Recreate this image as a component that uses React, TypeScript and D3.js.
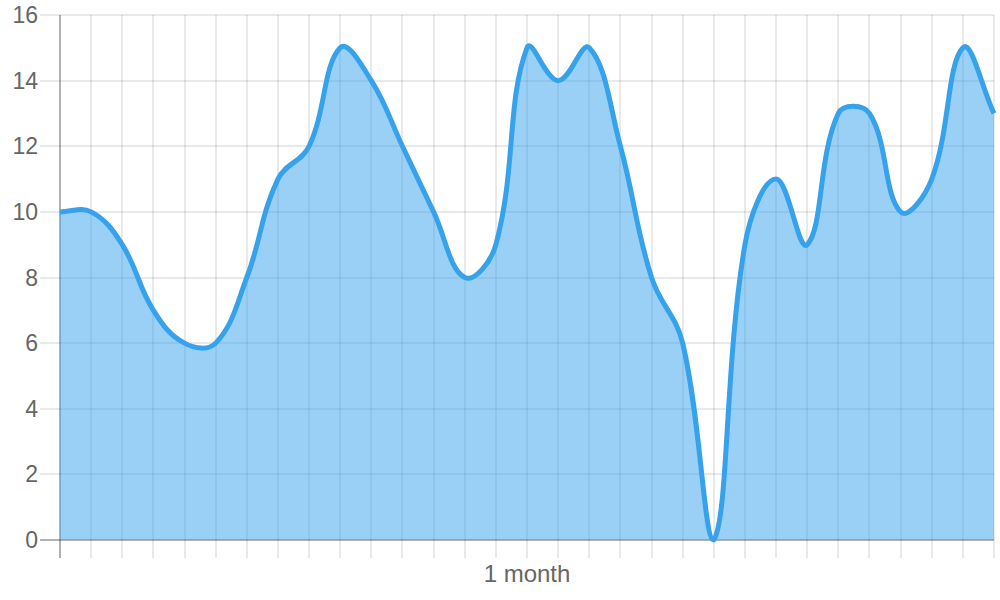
import React from "react";
import * as d3 from "d3";

const labels: string[] = Array.from({ length: 31 }, (_, i) => (i === 15 ? "1 month" : ""));
const values: number[] = [
  10, 10, 9, 7, 6, 6, 8, 11, 12, 15, 14, 12, 10, 8, 9, 15, 14, 15, 12, 8, 6, 0, 9, 11, 9, 13, 13, 10, 11, 15, 13,
];
const yTicks: number[] = [0, 2, 4, 6, 8, 10, 12, 14, 16];

const W = 1000;
const H = 600;
const left = 60;
const right = 994;
const top = 15;
const bottom = 540;
const tension = 0.4;

type P = { x: number; y: number; cpx1?: number; cpy1?: number; cpx2?: number; cpy2?: number };

function splinePath(pts: P[]): string {
  const n = pts.length;
  const cap = (v: number, lo: number, hi: number) => Math.max(lo, Math.min(hi, v));
  for (let i = 0; i < n; i++) {
    const cur = pts[i];
    const prev = i > 0 ? pts[i - 1] : cur;
    const next = i < n - 1 ? pts[i + 1] : cur;
    const d01 = Math.hypot(cur.x - prev.x, cur.y - prev.y);
    const d12 = Math.hypot(next.x - cur.x, next.y - cur.y);
    let s01 = d01 / (d01 + d12);
    let s12 = d12 / (d01 + d12);
    if (isNaN(s01)) s01 = 0;
    if (isNaN(s12)) s12 = 0;
    const fa = s01 * tension;
    const fb = s12 * tension;
    cur.cpx1 = cap(cur.x - fa * (next.x - prev.x), left, right);
    cur.cpy1 = cap(cur.y - fa * (next.y - prev.y), top, bottom);
    cur.cpx2 = cap(cur.x + fb * (next.x - prev.x), left, right);
    cur.cpy2 = cap(cur.y + fb * (next.y - prev.y), top, bottom);
  }
  const p = d3.path();
  p.moveTo(pts[0].x, pts[0].y);
  for (let i = 1; i < n; i++) {
    const a = pts[i - 1];
    const b = pts[i];
    p.bezierCurveTo(a.cpx2!, a.cpy2!, b.cpx1!, b.cpy1!, b.x, b.y);
  }
  return p.toString();
}

export default function App() {
  const x = d3.scaleLinear().domain([0, labels.length - 1]).range([left, right]);
  const y = d3.scaleLinear().domain([0, 16]).range([bottom, top]);
  const pts: P[] = values.map((v, i) => ({ x: x(i), y: y(v) }));
  const line = splinePath(pts);
  const area = `${line}L${x(values.length - 1)},${y(0)}L${x(0)},${y(0)}Z`;
  const font = "'Liberation Sans', Arial, Helvetica, sans-serif";
  const grid = "rgba(0,0,0,0.085)";
  const zero = "rgba(0,0,0,0.3)";
  const r = (v: number) => Math.round(v);

  return (
    <svg width={W} height={H} style={{ position: "absolute", left: 0, top: 0 }}>
      {yTicks.map((t) => (
        <line
          key={"yg" + t}
          x1={left - 20}
          x2={right}
          y1={r(y(t))}
          y2={r(y(t))}
          stroke={t === 0 ? zero : grid}
          strokeWidth={2}
        />
      ))}
      {labels.map((_, i) => (
        <line
          key={"xg" + i}
          x1={r(x(i))}
          x2={r(x(i))}
          y1={top}
          y2={bottom + 18}
          stroke={i === 0 ? zero : grid}
          strokeWidth={2}
        />
      ))}
      <path d={area} fill="rgba(54,162,235,0.5)" stroke="none" />
      <path d={line} fill="none" stroke="rgb(54,162,235)" strokeWidth={5} strokeLinejoin="round" />
      {yTicks.map((t) => (
        <text
          key={"yl" + t}
          x={38}
          y={y(t) + 8}
          textAnchor="end"
          fontFamily={font}
          fontSize={23}
          fill="#666"
        >
          {t}
        </text>
      ))}
      {labels.map((l, i) =>
        l ? (
          <text
            key={"xl" + i}
            x={x(i)}
            y={582}
            textAnchor="middle"
            fontFamily={font}
            fontSize={24}
            fill="#666"
          >
            {l}
          </text>
        ) : null
      )}
    </svg>
  );
}
